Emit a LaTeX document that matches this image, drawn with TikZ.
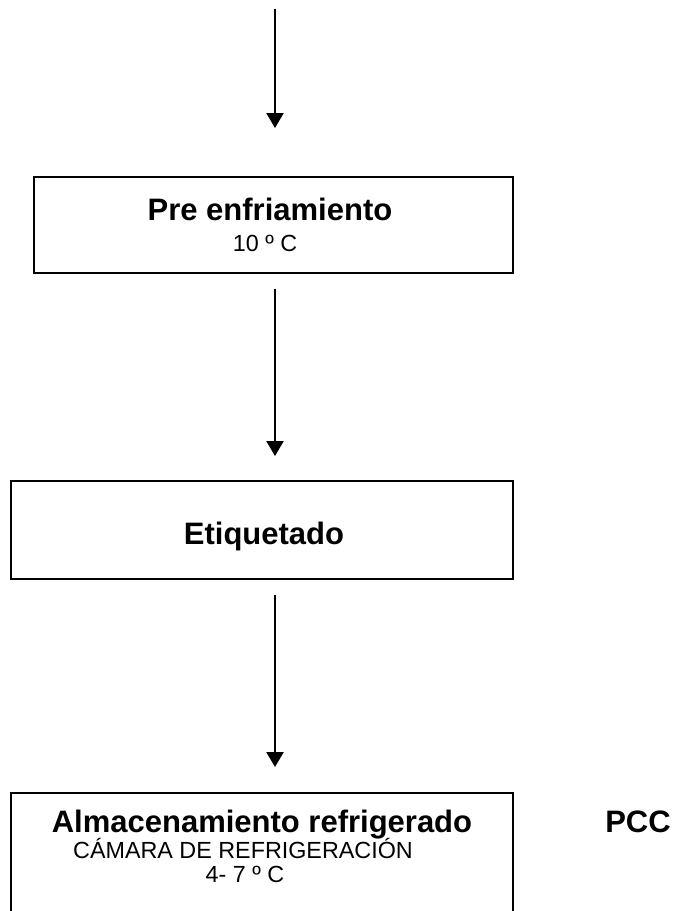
\documentclass[tikz,border=0pt]{standalone}
\usepackage{fontspec}
\setmainfont{Liberation Sans}
\usetikzlibrary{arrows.meta}

\begin{document}
\begin{tikzpicture}[x = 0.75pt, y = -0.75pt,
    caja/.style = {draw, line width = 1.6pt, outer sep = 0pt, inner sep = 0pt, anchor = north west},
    titulo/.style = {anchor = base, inner sep = 0pt, font = \fontsize{23.25}{28}\selectfont\bfseries},
    nota/.style = {anchor = base, inner sep = 0pt, font = \fontsize{17.5}{21}\selectfont},
    flecha/.style = {-{Triangle[length = 11.25pt, width = 12.75pt]}, line width = 1.8pt}]
  \useasboundingbox (0,0) rectangle (675,911);
  \clip (0,0) rectangle (675,911);
  \coordinate (entrada) at (275,9);
  \node (pre) [caja, minimum width = 359.25pt, minimum height = 72pt] at (34,177) {};
  \node (eti) [caja, minimum width = 376.5pt, minimum height = 73.5pt] at (11,481) {};
  \node (alm) [caja, minimum width = 376.5pt, minimum height = 105pt] at (11,793) {};
  \node (preT) [titulo] at (270,220) {Pre enfriamiento};
  \node (preN) [nota] at (265,251) {10 º C};
  \node (etiT) [titulo] at (264,544) {Etiquetado};
  \node (almT) [titulo] at (262,832) {Almacenamiento refrigerado};
  \node (almN) [nota] at (243,858) {CÁMARA DE REFRIGERACIÓN};
  \node (almG) [nota] at (245,882) {4- 7 º C};
  \node (pcc) [titulo] at (638,832) {PCC};
  \draw[flecha, shorten > = 36.75pt] (entrada) -- (entrada |- pre.north);
  \draw[flecha, shorten < = 12pt, shorten > = 18.75pt] (entrada |- pre.south) -- (entrada |- eti.north);
  \draw[flecha, shorten < = 12pt, shorten > = 19.5pt] (entrada |- eti.south) -- (entrada |- alm.north);
\end{tikzpicture}
\end{document}
